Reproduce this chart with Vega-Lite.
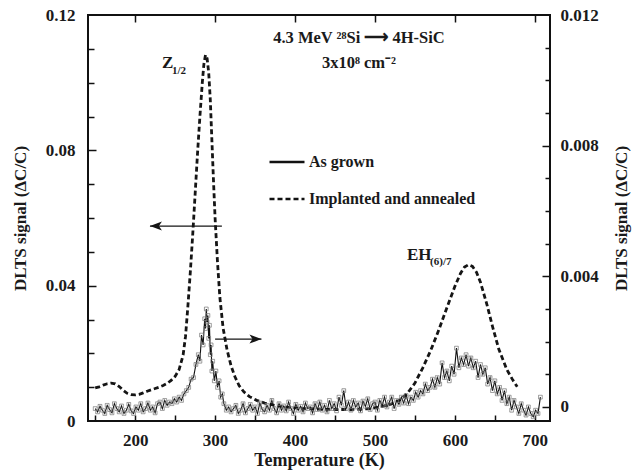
{
  "$schema": "https://vega.github.io/schema/vega-lite/v6.json",
  "width": 462,
  "height": 406,
  "autosize": {"type": "none"},
  "padding": {"left": 88, "top": 15, "right": 82, "bottom": 53},
  "background": "white",
  "config": {
    "view": {"stroke": "#111111", "strokeWidth": 2},
    "font": "Liberation Serif, Times New Roman, serif",
    "axis": {
      "labelFont": "Liberation Serif, Times New Roman, serif", "labelFontWeight": "bold", "labelFontSize": 17, "labelColor": "#1a1a1a",
      "titleFont": "Liberation Serif, Times New Roman, serif", "titleFontWeight": "bold", "titleFontSize": 17, "titleColor": "#1a1a1a",
      "domain": false, "grid": false, "tickColor": "#111111", "tickWidth": 1.5
    },
    "text": {"font": "Liberation Serif, Times New Roman, serif", "fontWeight": "bold", "color": "#1a1a1a"}
  },
  "datasets": {
    "implanted": [
      {"T":150,"v":0.0098},{"T":155,"v":0.0101},{"T":160,"v":0.0106},{"T":165,"v":0.0110},{"T":170,"v":0.0112},
      {"T":175,"v":0.0110},{"T":180,"v":0.0102},{"T":185,"v":0.0091},{"T":190,"v":0.0082},{"T":195,"v":0.0078},
      {"T":200,"v":0.0077},{"T":205,"v":0.0079},{"T":210,"v":0.0083},{"T":215,"v":0.0088},{"T":220,"v":0.0092},
      {"T":225,"v":0.0096},{"T":230,"v":0.0100},{"T":235,"v":0.0105},{"T":240,"v":0.0111},{"T":245,"v":0.0120},
      {"T":250,"v":0.0132},{"T":255,"v":0.0152},{"T":260,"v":0.0195},{"T":263,"v":0.0250},{"T":266,"v":0.0340},
      {"T":269,"v":0.0440},{"T":272,"v":0.0550},{"T":275,"v":0.0670},{"T":278,"v":0.0790},{"T":281,"v":0.0900},
      {"T":284,"v":0.1000},{"T":286,"v":0.1055},{"T":288,"v":0.1082},{"T":290,"v":0.1072},{"T":292,"v":0.1030},
      {"T":294,"v":0.0950},{"T":296,"v":0.0830},{"T":298,"v":0.0710},{"T":300,"v":0.0600},{"T":303,"v":0.0470},
      {"T":306,"v":0.0365},{"T":310,"v":0.0275},{"T":315,"v":0.0210},{"T":320,"v":0.0163},{"T":325,"v":0.0130},
      {"T":330,"v":0.0105},{"T":336,"v":0.0086},{"T":343,"v":0.0072},{"T":352,"v":0.0061},{"T":362,"v":0.0053},
      {"T":375,"v":0.0046},{"T":390,"v":0.0041},{"T":410,"v":0.0037},{"T":430,"v":0.0035},{"T":450,"v":0.0034},
      {"T":470,"v":0.0034},{"T":490,"v":0.0036},{"T":506,"v":0.0041},{"T":520,"v":0.0050},{"T":531,"v":0.0062},
      {"T":540,"v":0.0080},{"T":550,"v":0.0112},{"T":560,"v":0.0158},{"T":570,"v":0.0210},{"T":580,"v":0.0270},
      {"T":590,"v":0.0335},{"T":600,"v":0.0398},{"T":607,"v":0.0436},{"T":612,"v":0.0455},{"T":617,"v":0.0462},
      {"T":622,"v":0.0457},{"T":627,"v":0.0440},{"T":632,"v":0.0410},{"T":640,"v":0.0345},{"T":647,"v":0.0280},
      {"T":655,"v":0.0212},{"T":665,"v":0.0152},{"T":672,"v":0.0123},{"T":678,"v":0.0101}
    ],
    "grown": [
      {"T":150,"v":-0.00005},{"T":153,"v":-0.00015},{"T":156,"v":0.00002},{"T":159,"v":-0.0001},{"T":162,"v":-0.0002},
      {"T":165,"v":0.00005},{"T":168,"v":-0.00008},{"T":171,"v":-0.00018},{"T":174,"v":0.0001},{"T":177,"v":-0.00005},
      {"T":180,"v":-0.00015},{"T":183,"v":0.00003},{"T":186,"v":-0.0002},{"T":189,"v":-0.0001},{"T":192,"v":0.00008},
      {"T":195,"v":-0.00012},{"T":198,"v":-0.0002},{"T":201,"v":0.0},{"T":204,"v":-0.0001},{"T":207,"v":0.0001},
      {"T":210,"v":-0.00015},{"T":213,"v":-0.00005},{"T":216,"v":0.00012},{"T":219,"v":-0.0001},{"T":222,"v":0.0},
      {"T":225,"v":-0.00018},{"T":228,"v":0.0001},{"T":231,"v":0.00015},{"T":234,"v":-0.00005},{"T":237,"v":0.0002},
      {"T":240,"v":0.00005},{"T":243,"v":0.00015},{"T":246,"v":0.0001},{"T":249,"v":0.00025},{"T":252,"v":0.00015},
      {"T":255,"v":0.0003},{"T":258,"v":0.0002},{"T":261,"v":0.0004},{"T":264,"v":0.0005},{"T":267,"v":0.0006},
      {"T":270,"v":0.00085},{"T":273,"v":0.0009},{"T":276,"v":0.0013},{"T":279,"v":0.0016},{"T":281,"v":0.0014},
      {"T":283,"v":0.0022},{"T":285,"v":0.0019},{"T":287,"v":0.0027},{"T":288,"v":0.0024},{"T":289,"v":0.003},
      {"T":290,"v":0.0026},{"T":291,"v":0.0028},{"T":292,"v":0.0021},{"T":293,"v":0.0025},{"T":294,"v":0.0016},
      {"T":295,"v":0.0019},{"T":296,"v":0.0011},{"T":297,"v":0.0014},{"T":299,"v":0.0008},{"T":301,"v":0.0011},
      {"T":303,"v":0.0006},{"T":305,"v":0.0008},{"T":307,"v":0.0003},{"T":309,"v":0.0004},{"T":311,"v":0.0001},
      {"T":314,"v":-0.0001},{"T":317,"v":0.0},{"T":320,"v":-0.00015},{"T":323,"v":-0.00005},{"T":326,"v":0.00005},
      {"T":329,"v":-0.0002},{"T":332,"v":-0.0001},{"T":335,"v":0.0001},{"T":338,"v":-0.00018},{"T":341,"v":-0.00005},
      {"T":344,"v":0.00008},{"T":347,"v":-0.0001},{"T":350,"v":0.0},{"T":353,"v":-0.0002},{"T":356,"v":0.00012},
      {"T":359,"v":-0.00008},{"T":362,"v":-0.00015},{"T":365,"v":0.00005},{"T":368,"v":-0.0001},{"T":371,"v":0.0002},
      {"T":374,"v":-0.00005},{"T":377,"v":-0.00018},{"T":380,"v":0.0001},{"T":383,"v":-0.0001},{"T":386,"v":0.00003},
      {"T":389,"v":-0.00012},{"T":392,"v":0.00015},{"T":395,"v":-0.00005},{"T":398,"v":-0.0002},{"T":401,"v":0.00008},
      {"T":404,"v":-0.0001},{"T":407,"v":0.00002},{"T":410,"v":-0.00015},{"T":413,"v":0.00012},{"T":416,"v":-0.00005},
      {"T":419,"v":0.0},{"T":422,"v":-0.00018},{"T":425,"v":0.0001},{"T":428,"v":-0.00008},{"T":431,"v":0.00015},
      {"T":434,"v":-0.0001},{"T":437,"v":0.00005},{"T":440,"v":-0.00015},{"T":443,"v":0.0002},{"T":446,"v":-0.00005},
      {"T":449,"v":0.0001},{"T":452,"v":-0.00012},{"T":455,"v":0.0003},{"T":458,"v":0.00005},{"T":461,"v":0.0005},
      {"T":464,"v":-0.00005},{"T":467,"v":0.00015},{"T":470,"v":-0.0001},{"T":473,"v":0.0002},{"T":476,"v":0.0},
      {"T":479,"v":0.00012},{"T":482,"v":-0.00012},{"T":485,"v":0.00018},{"T":488,"v":0.00002},{"T":491,"v":0.00025},
      {"T":494,"v":-0.00008},{"T":497,"v":0.0001},{"T":500,"v":0.00015},{"T":503,"v":-0.0001},{"T":506,"v":0.0002},
      {"T":509,"v":0.00005},{"T":512,"v":0.0003},{"T":515,"v":0.0},{"T":518,"v":0.00015},{"T":521,"v":0.0003},
      {"T":524,"v":-0.00005},{"T":527,"v":0.0002},{"T":530,"v":0.00008},{"T":533,"v":0.0003},{"T":536,"v":0.00012},
      {"T":539,"v":0.00035},{"T":542,"v":0.0001},{"T":545,"v":0.0003},{"T":548,"v":0.0002},{"T":551,"v":0.00045},
      {"T":554,"v":0.0003},{"T":557,"v":0.0005},{"T":560,"v":0.0004},{"T":563,"v":0.0007},{"T":566,"v":0.0005},
      {"T":569,"v":0.0006},{"T":572,"v":0.00085},{"T":575,"v":0.0006},{"T":578,"v":0.0009},{"T":581,"v":0.0007},
      {"T":584,"v":0.00135},{"T":587,"v":0.0009},{"T":590,"v":0.0011},{"T":593,"v":0.0008},{"T":596,"v":0.00125},
      {"T":599,"v":0.001},{"T":602,"v":0.0018},{"T":605,"v":0.0012},{"T":608,"v":0.0015},{"T":611,"v":0.0013},
      {"T":614,"v":0.0016},{"T":617,"v":0.00125},{"T":620,"v":0.0015},{"T":623,"v":0.0012},{"T":626,"v":0.0014},
      {"T":629,"v":0.0009},{"T":632,"v":0.0013},{"T":635,"v":0.001},{"T":638,"v":0.0012},{"T":641,"v":0.0007},
      {"T":644,"v":0.0009},{"T":647,"v":0.0005},{"T":650,"v":0.0008},{"T":653,"v":0.0004},{"T":656,"v":0.0006},
      {"T":659,"v":0.0002},{"T":662,"v":0.0005},{"T":665,"v":0.0001},{"T":668,"v":0.0003},{"T":671,"v":-0.0001},
      {"T":674,"v":0.0002},{"T":677,"v":0.0},{"T":680,"v":-0.0002},{"T":683,"v":0.0001},{"T":686,"v":-0.0001},
      {"T":689,"v":-0.00025},{"T":692,"v":0.0},{"T":695,"v":-0.0002},{"T":698,"v":-0.0003},{"T":701,"v":-0.0001},
      {"T":704,"v":-0.0002},{"T":707,"v":0.0003}
    ],
    "arrows": [
      {"x1":218.5,"x2":308.5,"y":0.0576,"dir":"left"},
      {"x1":300,"x2":358,"y":0.0242,"dir":"right"}
    ],
    "notes": [
      {"T":480,"v":0.1132,"t":"4.3 MeV ²⁸Si ⟶ 4H-SiC"},
      {"T":480,"v":0.1058,"t":"3x10⁸ cm⁻²"}
    ],
    "peaks": [
      {"T":233.5,"v":0.1058,"t":"Z"},
      {"T":540,"v":0.0491,"t":"EH"}
    ],
    "subs": [
      {"T":246,"v":0.1035,"t":"1/2"},
      {"T":569,"v":0.0470,"t":"(6)/7"}
    ]
  },
  "layer": [
    {
      "data": {"name": "implanted"},
      "mark": {"type": "line", "strokeWidth": 2.8, "color": "#151515"},
      "encoding": {
        "x": {"field": "T", "type": "quantitative", "scale": {"domain": [141, 719]},
              "axis": {"orient": "bottom", "values": [200, 300, 400, 500, 600, 700], "ticks": false, "labelPadding": 11,
                       "title": "Temperature (K)", "titleFontSize": 18, "titlePadding": 3}},
        "y": {"field": "v", "type": "quantitative", "scale": {"domain": [0, 0.12]},
              "axis": {"orient": "left", "values": [0, 0.04, 0.08, 0.12], "format": ".2~f", "ticks": false, "labelPadding": 13,
                       "title": "DLTS signal (ΔC/C)", "titlePadding": 16}},
        "strokeDash": {"datum": "Implanted and annealed", "type": "nominal",
                       "scale": {"domain": ["As grown", "Implanted and annealed"], "range": [[1, 0], [5, 3]]},
                       "legend": {"title": null, "orient": "none", "legendX": 180, "legendY": 128,
                                  "symbolType": "stroke", "symbolSize": 1225, "symbolStrokeWidth": 2.5,
                                  "symbolStrokeColor": "#151515", "labelFont": "Liberation Serif, Times New Roman, serif", "labelFontWeight": "bold",
                                  "labelFontSize": 16, "labelColor": "#1a1a1a", "labelOffset": 3, "labelLimit": 400, "rowPadding": 10}}
      }
    },
    {
      "data": {"name": "grown"},
      "mark": {"type": "line", "strokeWidth": 1.1, "color": "#111111",
               "point": {"shape": "square", "filled": false, "size": 14, "color": "#7a7a7a", "strokeWidth": 0.8}},
      "encoding": {
        "x": {"field": "T", "type": "quantitative", "scale": {"domain": [141, 719]}, "axis": null},
        "y": {"field": "v", "type": "quantitative", "scale": {"domain": [-0.00043, 0.012]},
              "axis": {"orient": "right", "values": [0, 0.004, 0.008, 0.012], "format": ".3~f", "ticks": false, "labelPadding": 10,
                       "title": "DLTS signal (ΔC/C)", "titleAngle": 270, "titlePadding": 32}},
        "strokeDash": {"datum": "As grown", "type": "nominal",
                       "scale": {"domain": ["As grown", "Implanted and annealed"], "range": [[1, 0], [5, 3]]}}
      }
    },
    {
      "data": {"name": "arrows"},
      "mark": {"type": "rule", "strokeWidth": 1.4, "color": "#151515"},
      "encoding": {
        "x": {"field": "x1", "type": "quantitative", "scale": {"domain": [141, 719]}, "axis": null},
        "x2": {"field": "x2"},
        "y": {"field": "y", "type": "quantitative", "scale": {"domain": [0, 0.12]}, "axis": null}
      }
    },
    {
      "data": {"name": "arrows"},
      "transform": [{"filter": "datum.dir === 'left'"}],
      "mark": {"type": "point", "shape": "M-1,0L1,-0.75L0.5,0L1,0.75Z", "filled": true, "size": 144, "color": "#151515", "opacity": 1, "xOffset": 6},
      "encoding": {
        "x": {"field": "x1", "type": "quantitative", "scale": {"domain": [141, 719]}, "axis": null},
        "y": {"field": "y", "type": "quantitative", "scale": {"domain": [0, 0.12]}, "axis": null}
      }
    },
    {
      "data": {"name": "arrows"},
      "transform": [{"filter": "datum.dir === 'right'"}],
      "mark": {"type": "point", "shape": "M1,0L-1,-0.75L-0.5,0L-1,0.75Z", "filled": true, "size": 144, "color": "#151515", "opacity": 1, "xOffset": -6},
      "encoding": {
        "x": {"field": "x2", "type": "quantitative", "scale": {"domain": [141, 719]}, "axis": null},
        "y": {"field": "y", "type": "quantitative", "scale": {"domain": [0, 0.12]}, "axis": null}
      }
    },
    {
      "data": {"name": "notes"},
      "mark": {"type": "text", "fontSize": 16.5, "align": "center"},
      "encoding": {
        "x": {"field": "T", "type": "quantitative", "scale": {"domain": [141, 719]}, "axis": null},
        "y": {"field": "v", "type": "quantitative", "scale": {"domain": [0, 0.12]}, "axis": null},
        "text": {"field": "t"}
      }
    },
    {
      "data": {"name": "peaks"},
      "mark": {"type": "text", "fontSize": 17, "align": "left"},
      "encoding": {
        "x": {"field": "T", "type": "quantitative", "scale": {"domain": [141, 719]}, "axis": null},
        "y": {"field": "v", "type": "quantitative", "scale": {"domain": [0, 0.12]}, "axis": null},
        "text": {"field": "t"}
      }
    },
    {
      "data": {"name": "subs"},
      "mark": {"type": "text", "fontSize": 11, "align": "left"},
      "encoding": {
        "x": {"field": "T", "type": "quantitative", "scale": {"domain": [141, 719]}, "axis": null},
        "y": {"field": "v", "type": "quantitative", "scale": {"domain": [0, 0.12]}, "axis": null},
        "text": {"field": "t"}
      }
    },
    {
      "data": {"name": "notes"},
      "mark": {"type": "point", "opacity": 0},
      "encoding": {
        "x": {"field": "T", "type": "quantitative", "scale": {"domain": [141, 719]},
              "axis": {"orient": "bottom", "values": [150, 200, 250, 300, 350, 400, 450, 500, 550, 600, 650, 700], "labels": false, "ticks": true, "tickSize": 6, "offset": -6, "title": null}},
        "y": {"field": "v", "type": "quantitative", "scale": {"domain": [0, 0.12]}, "axis": null}
      }
    },
    {
      "data": {"name": "notes"},
      "mark": {"type": "point", "opacity": 0},
      "encoding": {
        "x": {"field": "T", "type": "quantitative", "scale": {"domain": [141, 719]},
              "axis": {"orient": "top", "values": [200, 300, 400, 500, 600, 700], "labels": false, "ticks": true, "tickSize": 7, "offset": -7, "title": null}},
        "y": {"field": "v", "type": "quantitative", "scale": {"domain": [0, 0.12]}, "axis": null}
      }
    },
    {
      "data": {"name": "notes"},
      "mark": {"type": "point", "opacity": 0},
      "encoding": {
        "x": {"field": "T", "type": "quantitative", "scale": {"domain": [141, 719]}, "axis": null},
        "y": {"field": "v", "type": "quantitative", "scale": {"domain": [0, 0.12]},
              "axis": {"orient": "left", "values": [0.04, 0.08], "labels": false, "ticks": true, "tickSize": 8, "offset": -8, "title": null}}
      }
    },
    {
      "data": {"name": "notes"},
      "mark": {"type": "point", "opacity": 0},
      "encoding": {
        "x": {"field": "T", "type": "quantitative", "scale": {"domain": [141, 719]}, "axis": null},
        "y": {"field": "v", "type": "quantitative", "scale": {"domain": [0, 0.12]},
              "axis": {"orient": "left", "values": [0.01, 0.02, 0.03, 0.05, 0.06, 0.07, 0.09, 0.1, 0.11], "labels": false, "ticks": true, "tickSize": 6, "offset": -6, "title": null}}
      }
    },
    {
      "data": {"name": "notes"},
      "mark": {"type": "point", "opacity": 0},
      "encoding": {
        "x": {"field": "T", "type": "quantitative", "scale": {"domain": [141, 719]}, "axis": null},
        "y": {"field": "v", "type": "quantitative", "scale": {"domain": [-0.00043, 0.012]},
              "axis": {"orient": "right", "values": [0, 0.004, 0.008], "labels": false, "ticks": true, "tickSize": 8, "offset": -8, "title": null}}
      }
    },
    {
      "data": {"name": "notes"},
      "mark": {"type": "point", "opacity": 0},
      "encoding": {
        "x": {"field": "T", "type": "quantitative", "scale": {"domain": [141, 719]}, "axis": null},
        "y": {"field": "v", "type": "quantitative", "scale": {"domain": [-0.00043, 0.012]},
              "axis": {"orient": "right", "values": [0.001, 0.002, 0.003, 0.005, 0.006, 0.007, 0.009, 0.01, 0.011], "labels": false, "ticks": true, "tickSize": 5, "offset": -5, "title": null}}
      }
    }
  ],
  "resolve": {"scale": {"y": "independent"}, "axis": {"x": "independent", "y": "independent"}}
}
